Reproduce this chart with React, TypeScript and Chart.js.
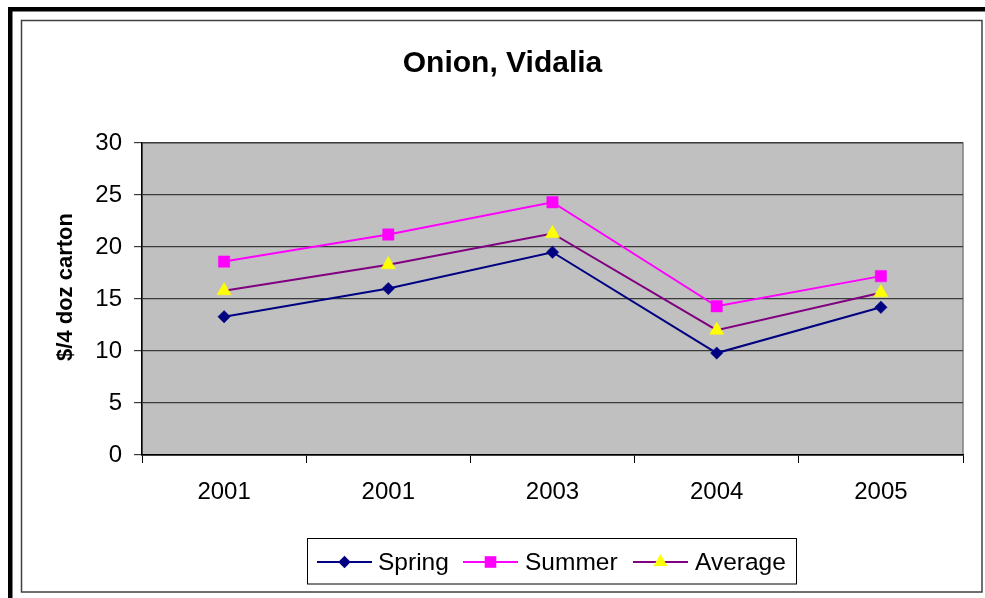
import React, { useEffect, useRef } from "react";
import { Chart, registerables } from "chart.js";

Chart.register(...registerables);

const categories = ["2001", "2001", "2003", "2004", "2005"];
const springValues = [13.3, 16.0, 19.5, 9.8, 14.2];
const summerValues = [18.6, 21.2, 24.3, 14.3, 17.2];
const averageValues = [15.8, 18.3, 21.3, 12.0, 15.6];
const chartTitle = "Onion, Vidalia";
const yAxisTitle = "$/4 doz carton";
const seriesNames = ["Spring", "Summer", "Average"];

const FONT = "Arial, 'Liberation Sans', sans-serif";

function drawMarker(ctx: CanvasRenderingContext2D, kind: string, x: number, y: number, fill: string) {
  ctx.save();
  ctx.fillStyle = fill;
  ctx.beginPath();
  if (kind === "diamond") {
    const r = 6.2;
    ctx.moveTo(x, y - r);
    ctx.lineTo(x + r, y);
    ctx.lineTo(x, y + r);
    ctx.lineTo(x - r, y);
    ctx.closePath();
  } else if (kind === "square") {
    const s = 5.8;
    ctx.rect(x - s, y - s, 2 * s, 2 * s);
  } else {
    const r = 8;
    ctx.moveTo(x, y - r);
    ctx.lineTo(x + r * 0.866, y + r * 0.5);
    ctx.lineTo(x - r * 0.866, y + r * 0.5);
    ctx.closePath();
  }
  ctx.fill();
  ctx.restore();
}

const decorPlugin = {
  id: "decor",
  beforeDraw(chart: any) {
    const { ctx, chartArea, width, height } = chart;
    ctx.save();
    ctx.fillStyle = "#ffffff";
    ctx.fillRect(0, 0, width, height);
    ctx.fillStyle = "#C0C0C0";
    ctx.fillRect(chartArea.left, chartArea.top, chartArea.right - chartArea.left, chartArea.bottom - chartArea.top);
    ctx.strokeStyle = "#808080";
    ctx.lineWidth = 1.5;
    ctx.strokeRect(chartArea.left, chartArea.top, chartArea.right - chartArea.left, chartArea.bottom - chartArea.top);
    ctx.restore();
  },
  afterDraw(chart: any) {
    const { ctx } = chart;
    ctx.save();
    // outer thick border (left & top visible)
    ctx.fillStyle = "#000";
    ctx.fillRect(0, 0, 4.5, chart.height);
    ctx.fillRect(0, 0, chart.width, 4.5);
    // inner border
    ctx.strokeStyle = "#404040";
    ctx.lineWidth = 1.5;
    ctx.strokeRect(13.5, 13.5, 960.5, 571.5);

    // title
    ctx.fillStyle = "#000";
    ctx.font = `bold 30px ${FONT}`;
    ctx.textAlign = "center";
    ctx.textBaseline = "alphabetic";
    ctx.fillText(chartTitle, 494.5, 65);

    // y axis title
    ctx.save();
    ctx.translate(58, 280);
    ctx.rotate(-Math.PI / 2);
    ctx.font = `bold 22px ${FONT}`;
    ctx.textAlign = "center";
    ctx.textBaseline = "middle";
    ctx.fillText(yAxisTitle, 0, 0);
    ctx.restore();

    // legend
    ctx.strokeStyle = "#000";
    ctx.lineWidth = 1;
    ctx.strokeRect(299.5, 531.5, 489, 45.5);
    const ly = 555;
    const entries = [
      { line: "#000080", marker: "diamond", fill: "#000080", x0: 309, textX: 370 },
      { line: "#FF00FF", marker: "square", fill: "#FF00FF", x0: 455, textX: 517 },
      { line: "#800080", marker: "triangle", fill: "#FFFF00", x0: 625, textX: 687 },
    ];
    entries.forEach((e, i) => {
      ctx.strokeStyle = e.line;
      ctx.lineWidth = 2;
      ctx.beginPath();
      ctx.moveTo(e.x0, ly);
      ctx.lineTo(e.x0 + 55, ly);
      ctx.stroke();
      drawMarker(ctx, e.marker, e.x0 + 27.5, ly, e.fill);
      ctx.fillStyle = "#000";
      ctx.font = `24.5px ${FONT}`;
      ctx.textAlign = "left";
      ctx.textBaseline = "middle";
      ctx.fillText(seriesNames[i], e.textX, ly + 1);
    });
    ctx.restore();
  },
};

export default function App() {
  const ref = useRef<HTMLCanvasElement | null>(null);
  useEffect(() => {
    if (!ref.current) return;
    const chart = new Chart(ref.current, {
      type: "line",
      data: {
        labels: categories,
        datasets: [
          {
            label: seriesNames[0],
            data: springValues,
            borderColor: "#000080",
            backgroundColor: "#000080",
            borderWidth: 2,
            pointStyle: "rectRot",
            pointRadius: 6.2,
            pointBorderWidth: 0.5,
            pointBackgroundColor: "#000080",
            pointBorderColor: "#000080",
            tension: 0,
          },
          {
            label: seriesNames[1],
            data: summerValues,
            borderColor: "#FF00FF",
            backgroundColor: "#FF00FF",
            borderWidth: 2,
            pointStyle: "rect",
            pointRadius: 8,
            pointBorderWidth: 0.5,
            pointBackgroundColor: "#FF00FF",
            pointBorderColor: "#FF00FF",
            tension: 0,
          },
          {
            label: seriesNames[2],
            data: averageValues,
            borderColor: "#800080",
            backgroundColor: "#FFFF00",
            borderWidth: 2,
            pointStyle: "triangle",
            pointRadius: 8.2,
            pointBorderWidth: 0.5,
            pointBackgroundColor: "#FFFF00",
            pointBorderColor: "#FFFF00",
            tension: 0,
          },
        ],
      },
      options: {
        responsive: false,
        animation: false,
        layout: { padding: { left: 0, top: 136, right: 22, bottom: 73 } },
        plugins: {
          legend: { display: false },
          title: { display: false },
          tooltip: { enabled: false },
        },
        scales: {
          x: {
            offset: true,
            afterFit: (s: any) => {
              s.height = 70;
            },
            grid: {
              offset: true,
              drawOnChartArea: false,
              drawTicks: true,
              tickLength: 8,
              color: "#000",
              lineWidth: 1,
            },
            border: { display: true, color: "#000", width: 1.5 },
            ticks: {
              color: "#000",
              font: { family: FONT, size: 24 },
              padding: 15,
              maxRotation: 0,
              autoSkip: false,
            },
          },
          y: {
            min: 0,
            max: 30,
            afterFit: (s: any) => {
              s.width = 134;
            },
            grid: {
              color: "#3a3a3a",
              lineWidth: 1.2,
              drawTicks: true,
              tickLength: 8,
            },
            border: { display: true, color: "#000", width: 1.5 },
            ticks: {
              stepSize: 5,
              color: "#000",
              font: { family: FONT, size: 24 },
              padding: 12,
            },
          },
        },
      },
      plugins: [decorPlugin],
    });
    return () => chart.destroy();
  }, []);
  return (
    <div style={{ position: "fixed", left: 8, top: 7, width: 977, height: 591 }}>
      <canvas ref={ref} width={977} height={591} style={{ display: "block" }} />
    </div>
  );
}
